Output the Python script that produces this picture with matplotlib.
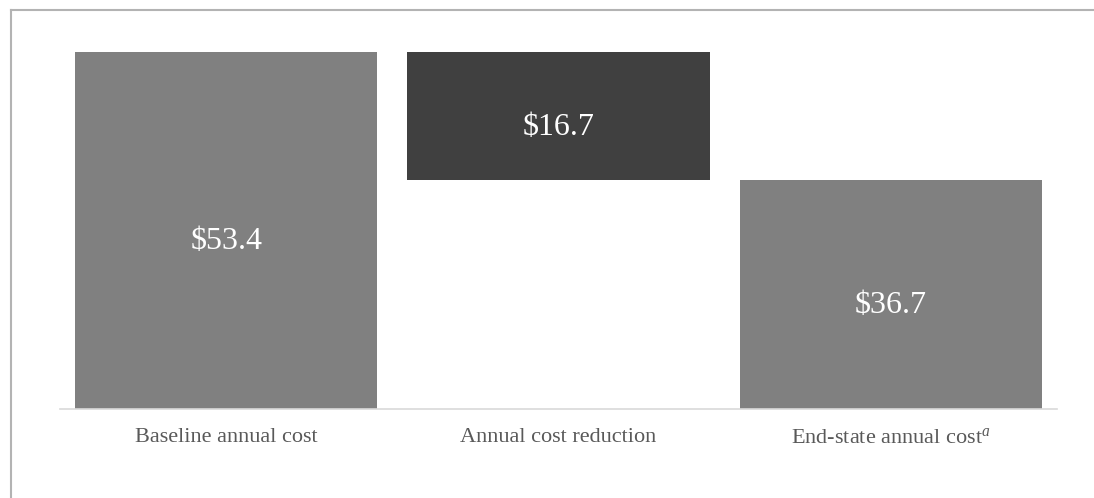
import matplotlib
matplotlib.use("Agg")
import matplotlib.pyplot as plt
from matplotlib.lines import Line2D

# waterfall data ($ millions)
categories = ["Baseline annual cost", "Annual cost reduction", "End-state annual cost$^{a}$"]
values = [53.4, 16.7, 36.7]
kinds = ["total", "decrease", "total"]

plt.rcParams["font.family"] = ["Liberation Serif", "DejaVu Serif"]
plt.rcParams["mathtext.fontset"] = "custom"
plt.rcParams["mathtext.rm"] = "Liberation Serif"
plt.rcParams["mathtext.it"] = "Liberation Serif:italic"

W, H = 1094, 498
fig = plt.figure(figsize=(W / 100, H / 100), dpi=100)
ax = fig.add_axes([60 / W, (H - 409) / H, 997 / W, (409 - 20) / H])

# compute bar bottoms for the waterfall
bottoms = []
running = 0.0
for v, k in zip(values, kinds):
    if k == "total":
        bottoms.append(0.0)
        running = v
    else:
        running -= v
        bottoms.append(running)

colors = ["#808080" if k == "total" else "#404040" for k in kinds]
x = list(range(len(values)))
ax.bar(x, values, bottom=bottoms, width=0.91, color=colors, zorder=2)

ymin, ymax = 6.82, 57.57
ax.set_ylim(ymin, ymax)
ax.set_xlim(-0.5, 2.5)

for xi, v, b in zip(x, values, bottoms):
    lo = max(b, ymin)
    mid = (lo + b + v) / 2
    ax.text(xi, mid - 1.5, f"${v:.1f}", ha="center", va="center",
            color="white", fontsize=23, zorder=3)

ax.set_xticks(x)
ax.set_xticklabels(categories, fontsize=16, color="#595959")
ax.tick_params(axis="x", length=0, pad=14)
ax.set_yticks([])
for s in ["top", "right", "left"]:
    ax.spines[s].set_visible(False)
ax.spines["bottom"].set_color("#d9d9d9")
ax.spines["bottom"].set_linewidth(1.2)
ax.spines["bottom"].set_zorder(4)

# cropped chart frame (left and top edges only)
fig.add_artist(Line2D([10.5 / W, 10.5 / W], [0, 1 - 10.5 / H], color="#b3b3b3", lw=1.5,
                      transform=fig.transFigure))
fig.add_artist(Line2D([10.5 / W, 1], [1 - 10.5 / H, 1 - 10.5 / H], color="#b3b3b3", lw=1.5,
                      transform=fig.transFigure))

fig.savefig("out.png", dpi=100)
